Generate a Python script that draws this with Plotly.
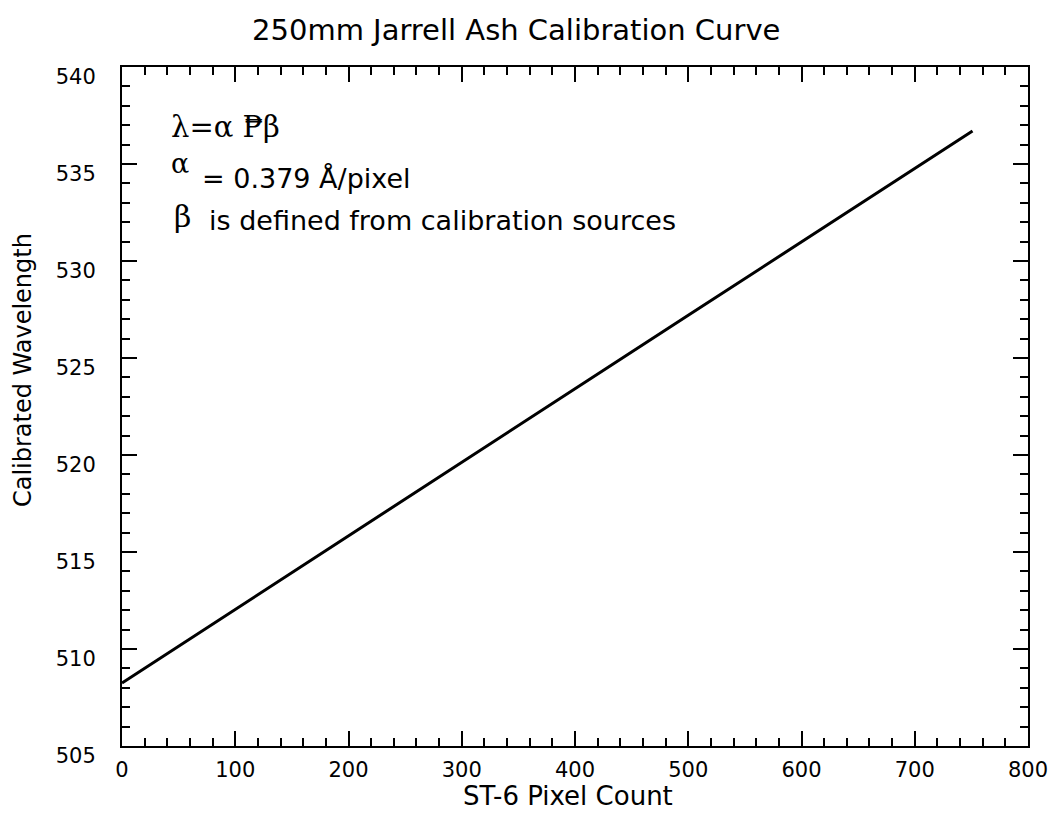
import plotly.graph_objects as go

# ST-6 pixel position and calibrated wavelength along the curve
pixel = [0, 50, 100, 150, 200, 250, 300, 350, 400, 450, 500, 550, 600, 650, 700, 751]
wavelength = [508.25, 510.15, 512.04, 513.94, 515.83, 517.73, 519.62, 521.52,
              523.41, 525.31, 527.20, 529.10, 530.99, 532.89, 534.78, 536.70]

x_ticks = [0, 100, 200, 300, 400, 500, 600, 700, 800]
y_ticks = [505, 510, 515, 520, 525, 530, 535, 540]

SANS = "DejaVu Sans"
SERIF = "DejaVu Serif"

fig = go.Figure()
fig.add_trace(go.Scatter(
    x=pixel, y=wavelength, mode="lines",
    line=dict(color="black", width=3),
    showlegend=False, hoverinfo="skip",
))

axis_common = dict(
    showgrid=False, zeroline=False, showline=True, linecolor="black", linewidth=2,
    mirror="ticks", ticks="inside", ticklen=15, tickwidth=2, tickcolor="black",
    tickfont=dict(family=SANS, size=21, color="black"),
    ticklabeloverflow="allow",
)

fig.update_xaxes(
    range=[0, 800], tickvals=x_ticks, ticktext=[str(v) for v in x_ticks],
    minor=dict(ticks="inside", dtick=20, ticklen=8, tickwidth=2, tickcolor="black"),
    ticklabelstandoff=4,
    **axis_common,
)
fig.update_yaxes(
    range=[505, 540], tickvals=y_ticks, ticktext=[str(v) for v in y_ticks],
    minor=dict(ticks="inside", dtick=1, ticklen=8, tickwidth=2, tickcolor="black"),
    ticklabelstandoff=20, ticklabelshift=10,
    **axis_common,
)

# axis titles
fig.add_annotation(x=-0.109, y=0.554, xref="paper", yref="paper", text="Calibrated Wavelength",
                   textangle=-90, showarrow=False, xanchor="center", yanchor="middle",
                   font=dict(family=SANS, size=24, color="black"))
fig.add_annotation(x=0.4926, y=-0.0743, xref="paper", yref="paper", text="ST-6 Pixel Count",
                   showarrow=False, xanchor="center", yanchor="middle",
                   font=dict(family=SANS, size=26, color="black"))

# calibration relation
fig.add_annotation(x=41.9, y=536.9, xref="x", yref="y", text="λ=α ₱β",
                   showarrow=False, xanchor="left", yanchor="middle",
                   font=dict(family=SERIF, size=29, color="black"))
fig.add_annotation(x=41.9, y=535.05, xref="x", yref="y", text="α",
                   showarrow=False, xanchor="left", yanchor="middle",
                   font=dict(family=SERIF, size=27, color="black"))
fig.add_annotation(x=68.9, y=534.23, xref="x", yref="y", text="= 0.379 Å/pixel",
                   showarrow=False, xanchor="left", yanchor="middle",
                   font=dict(family=SANS, size=27, color="black"))
fig.add_annotation(x=44.5, y=532.3, xref="x", yref="y", text="β",
                   showarrow=False, xanchor="left", yanchor="middle",
                   font=dict(family=SERIF, size=30, color="black"))
fig.add_annotation(x=75.0, y=532.1, xref="x", yref="y", text="is defined from calibration sources",
                   showarrow=False, xanchor="left", yanchor="middle",
                   font=dict(family=SANS, size=27, color="black"))

fig.update_layout(
    width=1060, height=816,
    margin=dict(l=122, r=20, t=67, b=70),
    paper_bgcolor="white", plot_bgcolor="white",
    title=dict(text="250mm Jarrell Ash Calibration Curve",
               font=dict(family=SANS, size=29, color="black"),
               x=0.487, xanchor="center", y=0.963, yanchor="middle"),
)

fig.write_html("out.html")
